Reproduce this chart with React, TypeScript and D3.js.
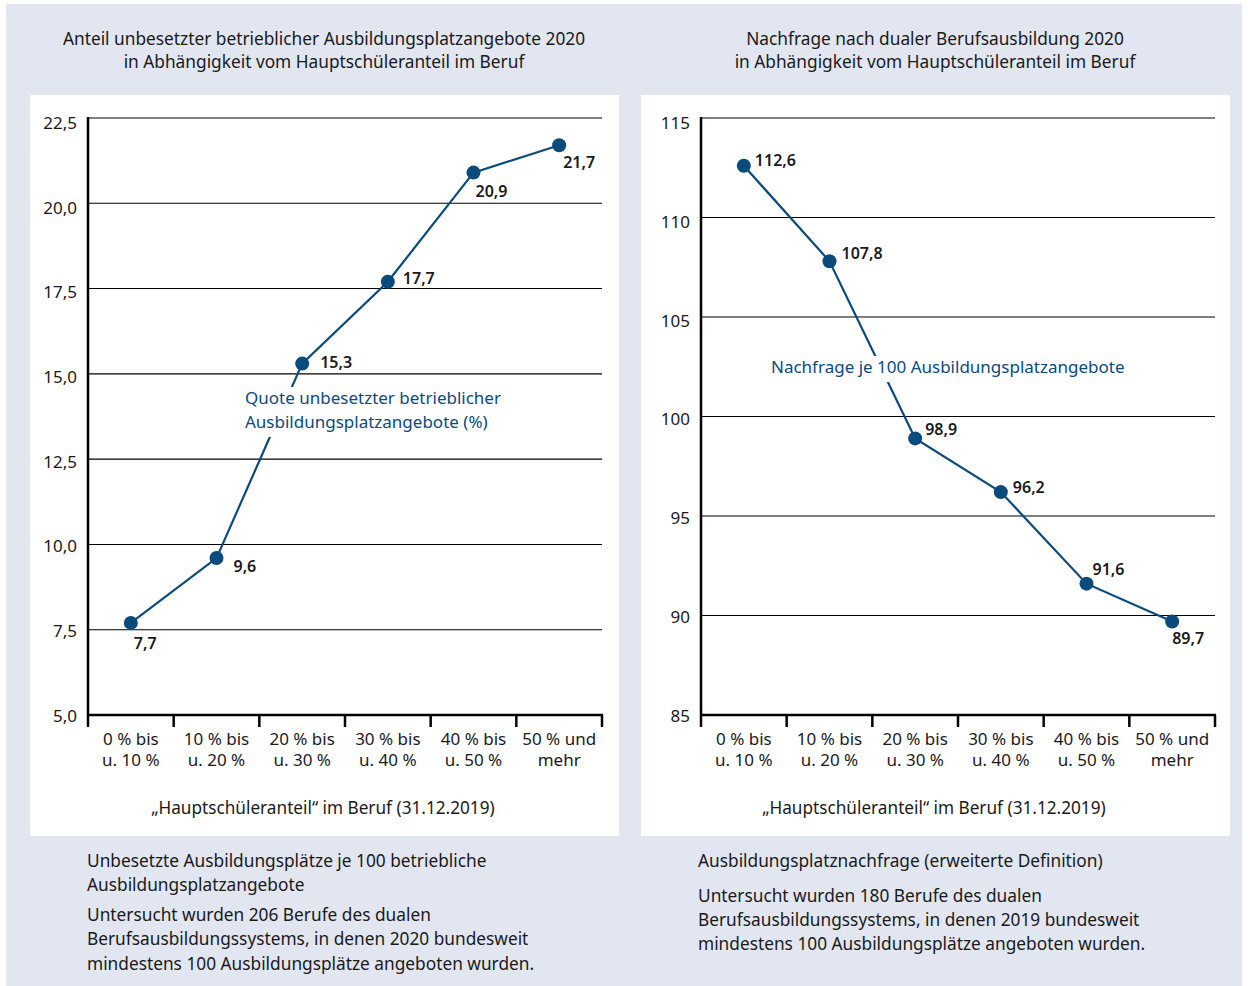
import React from "react";
import * as d3 from "d3";

const categories = [
  ["0 % bis", "u. 10 %"],
  ["10 % bis", "u. 20 %"],
  ["20 % bis", "u. 30 %"],
  ["30 % bis", "u. 40 %"],
  ["40 % bis", "u. 50 %"],
  ["50 % und", "mehr"],
];
const leftValues = [7.7, 9.6, 15.3, 17.7, 20.9, 21.7];
const rightValues = [112.6, 107.8, 98.9, 96.2, 91.6, 89.7];
const leftTicks = [5, 7.5, 10, 12.5, 15, 17.5, 20, 22.5];
const rightTicks = [85, 90, 95, 100, 105, 110, 115];
const leftTitle = [
  "Anteil unbesetzter betrieblicher Ausbildungsplatzangebote 2020",
  "in Abhängigkeit vom Hauptschüleranteil im Beruf",
];
const rightTitle = [
  "Nachfrage nach dualer Berufsausbildung 2020",
  "in Abhängigkeit vom Hauptschüleranteil im Beruf",
];
const xAxisTitle = "„Hauptschüleranteil“ im Beruf (31.12.2019)";
const leftSeriesLabel = ["Quote unbesetzter betrieblicher", "Ausbildungsplatzangebote (%)"];
const rightSeriesLabel = ["Nachfrage je 100 Ausbildungsplatzangebote"];
const leftNotes = [
  ["Unbesetzte Ausbildungsplätze je 100 betriebliche", "Ausbildungsplatzangebote"],
  [
    "Untersucht wurden 206 Berufe des dualen",
    "Berufsausbildungssystems, in denen 2020 bundesweit",
    "mindestens 100 Ausbildungsplätze angeboten wurden.",
  ],
];
const rightNotes = [
  ["Ausbildungsplatznachfrage (erweiterte Definition)"],
  [
    "Untersucht wurden 180 Berufe des dualen",
    "Berufsausbildungssystems, in denen 2019 bundesweit",
    "mindestens 100 Ausbildungsplätze angeboten wurden.",
  ],
];

// label offsets (layout only): dx from point, dy of text centre from point
const leftLabelOffsets: [number, number][] = [
  [3, 21], [17, 8], [18, -1], [15, -3], [2, 19], [4, 17],
];
const rightLabelOffsets: [number, number][] = [
  [11, -5.5], [12, -7.5], [10, -8.5], [12, -4.5], [6, -14.5], [0, 17.5],
];

const BLUE = "#0b4a7d";
const TXT = "#1a1a1a";
const FONT = "'Noto Sans', sans-serif";
const fmt = (v: number, dec: number) => v.toFixed(dec).replace(".", ",");

type ChartProps = {
  x0: number;
  axisOffset: number;
  title: string[];
  values: number[];
  ticks: number[];
  domain: [number, number];
  dec: number;
  offsets: [number, number][];
  seriesLabel: string[];
  seriesLabelPos: [number, number];
  notes: string[][];
  noteGap: number;
};

function Chart(p: ChartProps) {
  const axisX = p.x0 + p.axisOffset;
  const right = axisX + 514;
  const top = 118;
  const bottom = 715;
  const x = d3.scaleBand<number>().domain(d3.range(6)).range([axisX, right]);
  const y = d3.scaleLinear().domain(p.domain).range([bottom, top]);
  const yLbl = d3.scaleLinear().domain(p.domain).range([bottom + 0.5, top + 5]);
  const cx = (i: number) => x(i)! + x.bandwidth() / 2;
  const line = d3
    .line<number>()
    .x((_, i) => cx(i))
    .y((d) => y(d));
  const panelLeft = p.x0;
  const panelCx = panelLeft + 294;
  const boundaries = d3.range(7).map((i) => axisX + i * x.bandwidth());
  const lblX = p.seriesLabelPos[0];
  const lblY = p.seriesLabelPos[1];
  const lineH = 24;
  return (
    <g>
      <rect x={panelLeft} y={95} width={589} height={741} fill="#fff" />
      {p.title.map((t, i) => (
        <text key={i} x={panelCx} y={45 + i * 23} textAnchor="middle" fontSize={17.3} fill={TXT}>
          {t}
        </text>
      ))}
      {p.ticks.map((t) => (
        <g key={t}>
          {t !== p.domain[0] && (
            <line x1={axisX} x2={right} y1={y(t)} y2={y(t)} stroke="#000" strokeWidth={1.1} />
          )}
          <text x={axisX - 11} y={yLbl(t) + 6} textAnchor="end" fontSize={17} fill={TXT}>
            {fmt(t, p.dec === 1 ? 1 : 0)}
          </text>
        </g>
      ))}
      <line x1={axisX} x2={axisX} y1={top - 1} y2={bottom} stroke="#000" strokeWidth={2.5} />
      <line x1={axisX - 1} x2={right + 1} y1={bottom} y2={bottom} stroke="#000" strokeWidth={2.5} />
      {boundaries.map((b, i) => (
        <line key={i} x1={b} x2={b} y1={bottom} y2={bottom + 12} stroke="#000" strokeWidth={2.5} />
      ))}
      {categories.map((c, i) => (
        <text key={i} x={cx(i)} textAnchor="middle" fontSize={17} fill={TXT}>
          <tspan x={cx(i)} y={745}>{c[0]}</tspan>
          <tspan x={cx(i)} y={766}>{c[1]}</tspan>
        </text>
      ))}
      <text x={panelCx - 1} y={814} textAnchor="middle" fontSize={17.2} fill={TXT}>
        {xAxisTitle}
      </text>
      <path d={line(p.values) || ""} fill="none" stroke={BLUE} strokeWidth={2.2} />
      <rect
        x={lblX - 4}
        y={lblY - 17}
        width={d3.max(p.seriesLabel, (s) => s.length * 8.4)! + 8}
        height={p.seriesLabel.length * lineH + 2}
        fill="#fff"
      />
      {p.seriesLabel.map((s, i) => (
        <text key={i} x={lblX} y={lblY + i * lineH} fontSize={17} fill={BLUE}>
          {s}
        </text>
      ))}
      {p.values.map((v, i) => (
        <g key={i}>
          <circle cx={cx(i)} cy={y(v)} r={7} fill={BLUE} />
          <text
            x={cx(i) + p.offsets[i][0]}
            y={y(v) + p.offsets[i][1] + 5.5}
            fontSize={16}
            fontWeight={600}
            fill={TXT}
          >
            {fmt(v, 1)}
          </text>
        </g>
      ))}
      {(() => {
        let yy = 867;
        const out: React.ReactNode[] = [];
        p.notes.forEach((block, bi) => {
          block.forEach((s, si) => {
            out.push(
              <text key={`${bi}-${si}`} x={panelLeft + 57} y={yy} fontSize={17.3} fill={TXT}>
                {s}
              </text>
            );
            yy += 24.3;
          });
          yy += p.noteGap;
        });
        return out;
      })()}
    </g>
  );
}

export default function App() {
  return (
    <svg
      width={1248}
      height={986}
      style={{ position: "absolute", left: 0, top: 0, fontFamily: FONT }}
      fontFamily={FONT}
    >
      <rect x={0} y={0} width={1248} height={986} fill="#fff" />
      <rect x={6} y={4} width={1236} height={982} fill="#e2e6f0" />
      <Chart
        x0={30}
        axisOffset={58}
        title={leftTitle}
        values={leftValues}
        ticks={leftTicks}
        domain={[5, 22.5]}
        dec={1}
        offsets={leftLabelOffsets}
        seriesLabel={leftSeriesLabel}
        seriesLabelPos={[245, 404]}
        notes={leftNotes}
        noteGap={5.5}
      />
      <Chart
        x0={641}
        axisOffset={60}
        title={rightTitle}
        values={rightValues}
        ticks={rightTicks}
        domain={[85, 115]}
        dec={0}
        offsets={rightLabelOffsets}
        seriesLabel={rightSeriesLabel}
        seriesLabelPos={[771, 373]}
        notes={rightNotes}
        noteGap={10.5}
      />
    </svg>
  );
}
